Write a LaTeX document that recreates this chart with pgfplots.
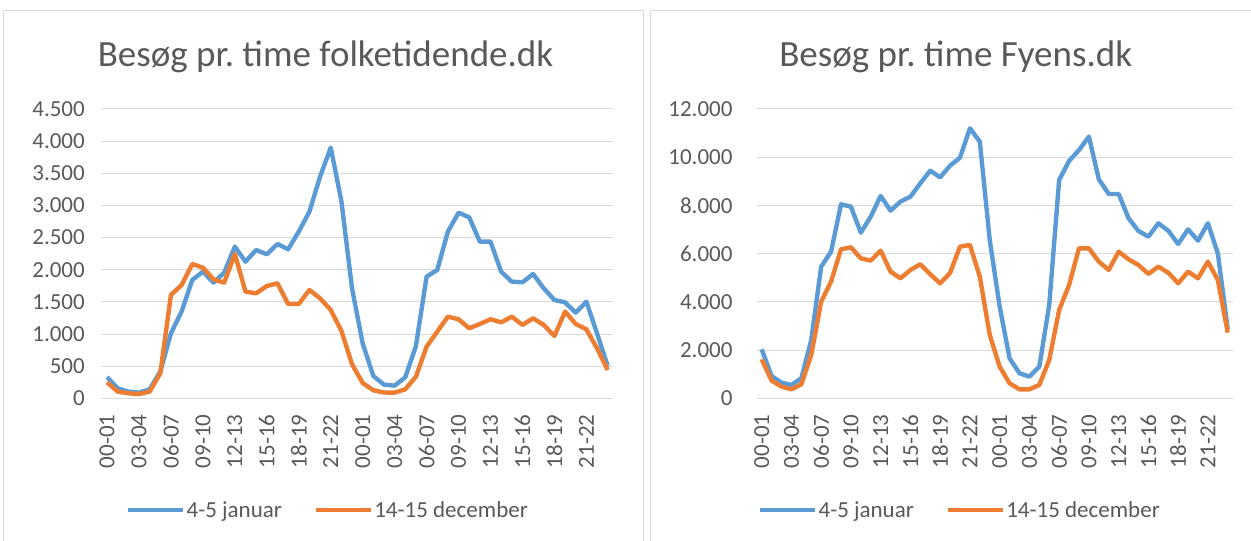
\documentclass[border=0pt]{standalone}
\usepackage{pgfplots}
\pgfplotsset{compat=1.18}
\usepackage{fontspec}
\setmainfont{Carlito}
\frenchspacing
\definecolor{xblue}{HTML}{5B9BD5}
\definecolor{xorange}{HTML}{ED7D31}
\definecolor{xgrid}{HTML}{D9D9D9}
\definecolor{xtext}{HTML}{595959}

\pgfplotsset{
 xlchart/.style={
  scale only axis, height=289.3pt,
  xmin=-0.5, xmax=47.5, ymin=0,
  axis line style={draw=none},
  major tick length=0pt,
  ymajorgrids, grid style={xgrid, line width=1pt},
  xtick={0,3,...,45},
  xticklabels={00-01,03-04,06-07,09-10,12-13,15-16,18-19,21-22,00-01,03-04,06-07,09-10,12-13,15-16,18-19,21-22},
  tick label style={font=\fontsize{23}{27}\selectfont, text=xtext},
  xticklabel style={rotate=90, anchor=east, inner sep=0pt},
  xticklabel shift=16pt,
  yticklabel style={anchor=east, inner sep=0pt},
  /pgf/number format/.cd, 1000 sep={.}, assume math mode=true, /pgfplots/.cd,
  scaled y ticks=false,
  legend columns=2,
  legend style={draw=none, fill=none, inner sep=0pt, font=\fontsize{23}{27}\selectfont,
    nodes={text=xtext, inner sep=1.5pt},
    /tikz/every even column/.append style={column sep=30pt}},
  legend image code/.code={\draw[#1, line width=4.4pt] (0pt,0pt) -- (55pt,0pt);},
  every axis plot/.append style={line width=4.4pt, line join=round, mark=none},
 }
}

\begin{document}
\begin{tikzpicture}[x=1pt,y=1pt]
\useasboundingbox (0,0) rectangle (1251,541);
\draw[xgrid, line width=1pt] (3,-5) -- (3,530.3) -- (643,530.3) -- (643,-5);
\draw[xgrid, line width=1pt] (650,-5) -- (650,530.3) -- (1260,530.3);
\node[anchor=base, text=xtext, font=\fontsize{37}{44}\selectfont] at (325.5,474) {Besøg pr. time folketidende.dk};
\node[anchor=base, text=xtext, font=\fontsize{37}{44}\selectfont] at (955.7,474) {Besøg pr. time Fyens.dk};

\begin{axis}[xlchart, at={(101.7pt,142.7pt)}, anchor=south west, width=511.3pt,
  ymax=4500, ytick={0,500,...,4500}, yticklabel shift=16.7pt,
  legend style={at={(0.4416,-0.386)}, anchor=center}]
\addplot[xblue] coordinates {
(0,330) (1,155) (2,104) (3,88) (4,140) (5,415) (6,1010) (7,1350) (8,1840) (9,1970)
(10,1800) (11,1955) (12,2360) (13,2125) (14,2307) (15,2240) (16,2400) (17,2317) (18,2592) (19,2903)
(20,3447) (21,3900) (22,3070) (23,1711) (24,855) (25,347) (26,212) (27,197) (28,327) (29,814)
(30,1892) (31,1996) (32,2592) (33,2887) (34,2815) (35,2436) (36,2436) (37,1970) (38,1814) (39,1804)
(40,1934) (41,1711) (42,1529) (43,1493) (44,1332) (45,1503) (46,1011) (47,503)};
\addlegendentry{4-5 januar}
\addplot[xorange] coordinates {
(0,249) (1,104) (2,78) (3,67) (4,104) (5,389) (6,1607) (7,1763) (8,2089) (9,2032)
(10,1851) (11,1799) (12,2245) (13,1659) (14,1633) (15,1747) (16,1788) (17,1467) (18,1467) (19,1685)
(20,1555) (21,1374) (22,1050) (23,530) (24,238) (25,125) (26,90) (27,88) (28,140) (29,337)
(30,803) (31,1037) (32,1270) (33,1229) (34,1089) (35,1156) (36,1229) (37,1182) (38,1270) (39,1141)
(40,1244) (41,1141) (42,969) (43,1348) (44,1156) (45,1073) (46,778) (47,441)};
\addlegendentry{14-15 december}
\end{axis}

\begin{axis}[xlchart, at={(756.7pt,142.7pt)}, anchor=south west, width=476pt,
  ymax=12000, ytick={0,2000,...,12000}, yticklabel shift=24pt,
  legend style={at={(0.426,-0.386)}, anchor=center}]
\addplot[xblue] coordinates {
(0,2032) (1,926) (2,650) (3,553) (4,830) (5,2419) (6,5461) (7,6083) (8,8046) (9,7949)
(10,6871) (11,7535) (12,8392) (13,7783) (14,8157) (15,8364) (16,8917) (17,9442) (18,9166) (19,9650)
(20,9980) (21,11198) (22,10645) (23,6567) (24,3802) (25,1659) (26,1037) (27,899) (28,1313) (29,3871)
(30,9055) (31,9843) (32,10300) (33,10853) (34,9083) (35,8475) (36,8475) (37,7466) (38,6940) (39,6705)
(40,7258) (41,6954) (42,6401) (43,7009) (44,6539) (45,7258) (46,6014) (47,2862)};
\addlegendentry{4-5 januar}
\addplot[xorange] coordinates {
(0,1618) (1,733) (2,484) (3,373) (4,581) (5,1797) (6,4009) (7,4839) (8,6180) (9,6263)
(10,5806) (11,5710) (12,6124) (13,5253) (14,4977) (15,5323) (16,5558) (17,5143) (18,4770) (19,5200)
(20,6290) (21,6360) (22,5046) (23,2627) (24,1313) (25,622) (26,373) (27,373) (28,553) (29,1590)
(30,3664) (31,4700) (32,6221) (33,6221) (34,5668) (35,5323) (36,6083) (37,5765) (38,5530) (39,5157)
(40,5461) (41,5212) (42,4770) (43,5253) (44,4977) (45,5668) (46,4908) (47,2724)};
\addlegendentry{14-15 december}
\end{axis}
\end{tikzpicture}
\end{document}
